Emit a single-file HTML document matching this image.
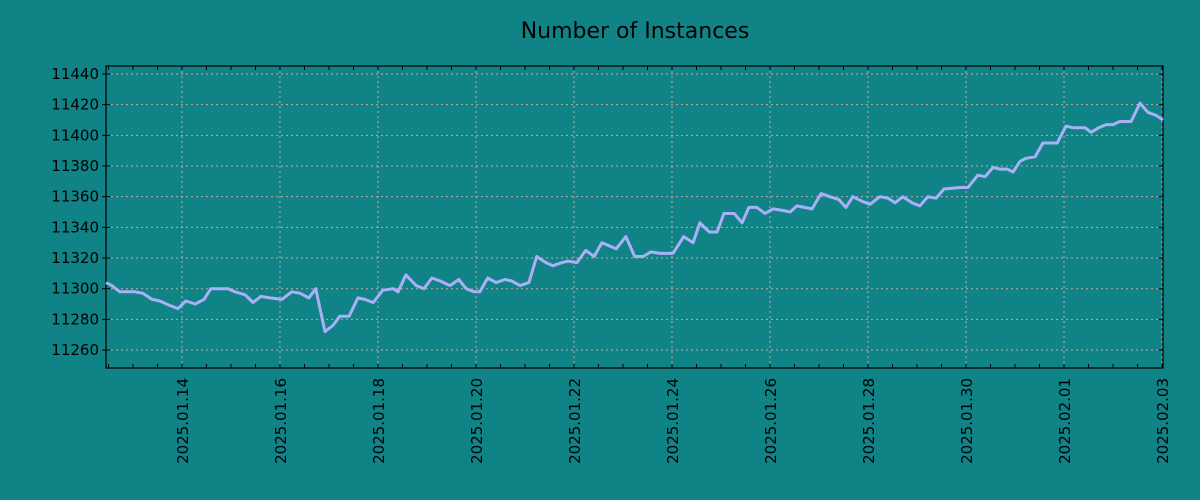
<!DOCTYPE html>
<html><head><meta charset="utf-8"><style>
html,body{margin:0;padding:0;background:#108386;}
svg{display:block;font-family:"DejaVu Sans","Liberation Sans",sans-serif;}
</style></head><body>
<svg id="chart" width="1200" height="500" xmlns="http://www.w3.org/2000/svg">
<rect width="1200" height="500" fill="#108386"/>
<text x="635" y="38" text-anchor="middle" font-size="22" fill="#000">Number of Instances</text>
<g id="grid"></g>
<g id="axes"></g>
<path id="line" fill="none" stroke="#aab0f8" stroke-width="3" stroke-linejoin="round"/>
</svg>
<script>
// days relative to 2025-01-14
const days = [-1.55,-1.43,-1.27,-0.96,-0.80,-0.61,-0.45,-0.24,-0.08,0.08,0.27,0.45,0.59,0.94,1.08,1.29,1.45,1.61,1.80,2.04,2.24,2.41,2.59,2.73,2.92,3.08,3.22,3.41,3.59,3.73,3.90,4.10,4.31,4.41,4.57,4.78,4.94,5.10,5.27,5.47,5.65,5.80,5.96,6.08,6.24,6.41,6.59,6.73,6.90,7.08,7.24,7.43,7.57,7.76,7.88,8.06,8.24,8.41,8.57,8.86,9.06,9.24,9.41,9.57,9.76,10.02,10.24,10.43,10.57,10.76,10.92,11.06,11.27,11.43,11.57,11.73,11.90,12.06,12.27,12.41,12.55,12.86,13.04,13.22,13.41,13.55,13.69,13.88,14.04,14.24,14.41,14.55,14.71,14.90,15.06,15.22,15.39,15.55,15.88,16.04,16.24,16.39,16.55,16.69,16.84,16.96,17.10,17.22,17.41,17.57,17.86,18.04,18.18,18.43,18.55,18.71,18.86,19.00,19.14,19.37,19.55,19.71,19.88,20.08];
const instances = [11304,11302,11298,11298,11297,11293,11292,11289,11287,11292,11290,11293,11300,11300,11298,11296,11291,11295,11294,11293,11298,11297,11294,11300,11272,11276,11282,11282,11294,11293,11291,11299,11300,11298,11309,11302,11300,11307,11305,11302,11306,11300,11298,11298,11307,11304,11306,11305,11302,11304,11321,11317,11315,11317,11318,11317,11325,11321,11330,11326,11334,11321,11321,11324,11323,11323,11334,11330,11343,11337,11337,11349,11349,11343,11353,11353,11349,11352,11351,11350,11354,11352,11362,11360,11358,11353,11360,11357,11355,11360,11359,11356,11360,11356,11354,11360,11359,11365,11366,11366,11374,11373,11379,11378,11378,11376,11383,11385,11386,11395,11395,11406,11405,11405,11402,11405,11407,11407,11409,11409,11421,11415,11413,11410];
const yTicks = [11260,11280,11300,11320,11340,11360,11380,11400,11420,11440];
const xTicks = [0,2,4,6,8,10,12,14,16,18,20];
const xTickLabels = ["2025.01.14","2025.01.16","2025.01.18","2025.01.20","2025.01.22","2025.01.24","2025.01.26","2025.01.28","2025.01.30","2025.02.01","2025.02.03"];

const L=106,R=1163,T=66,B=368;
const xMin=-1.55,xMax=20.02,yMin=11248.3,yMax=11445.2;
const X=d=>L+(d-xMin)/(xMax-xMin)*(R-L);
const Y=v=>B-(v-yMin)/(yMax-yMin)*(B-T);
const NS="http://www.w3.org/2000/svg";
const grid=document.getElementById('grid'), axes=document.getElementById('axes');
function mk(tag,attrs,parent){const e=document.createElementNS(NS,tag);for(const k in attrs)e.setAttribute(k,attrs[k]);parent.appendChild(e);return e;}

yTicks.forEach(v=>{
  const y=Y(v);
  const g=mk('line',{x1:L,x2:R,y1:y,y2:y,stroke:'#c8a8a0','stroke-width':1,'stroke-dasharray':'2,3'},grid);
  
  
  const t=mk('line',{x1:L-4,x2:L+4,y1:y,y2:y,stroke:'#000'},axes);
  
  
  const t2=mk('line',{x1:R-4,x2:R,y1:y,y2:y,stroke:'#000'},axes);
  
  
  const lb=mk('text',{x:L-7,y:y+5,'text-anchor':'end','font-size':15,fill:'#000'},axes);
  lb.textContent=v;
  
  
});
xTicks.forEach((d,i)=>{
  const x=X(d);
  const g=mk('line',{x1:x,x2:x,y1:T,y2:B,stroke:'#c8a8a0','stroke-width':1,'stroke-dasharray':'2,3'},grid);
  
  
  const lb=mk('text',{transform:`translate(${x+6},${B+10}) rotate(-90)`,'text-anchor':'end','font-size':15,fill:'#000'},axes);
  lb.textContent=xTickLabels[i];
  
  
});
for(let d=-1.5;d<=xMax;d+=0.5){
  const x=X(d);
  const a=mk('line',{x1:x,x2:x,y1:B,y2:B-4,stroke:'#000'},axes);
  
  
  const b=mk('line',{x1:x,x2:x,y1:T,y2:T+4,stroke:'#000'},axes);
  
  
}
const fr=mk('rect',{x:L,y:T,width:R-L,height:B-T,fill:'none',stroke:'#000','stroke-width':1.2},axes);



let dstr='';
days.forEach((d,i)=>{dstr+=(i?'L':'M')+Math.min(X(d),R).toFixed(1)+','+Y(instances[i]).toFixed(1);});
document.getElementById('line').setAttribute('d',dstr);
</script>
</body></html>
